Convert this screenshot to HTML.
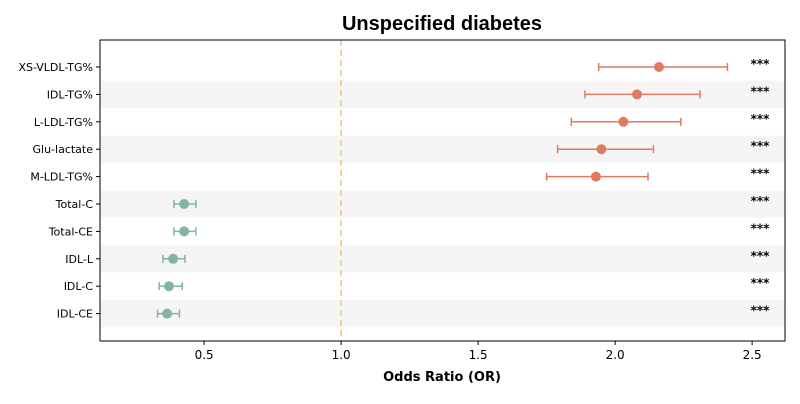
<!DOCTYPE html>
<html><head><meta charset="utf-8"><style>
body{margin:0;background:#fff;font-family:"DejaVu Sans","Liberation Sans",sans-serif;}
</style></head><body>
<svg id="chart" width="800" height="400" xmlns="http://www.w3.org/2000/svg">
<text x="442" y="30" text-anchor="middle" font-size="20" font-weight="bold" font-family="Liberation Sans, sans-serif">Unspecified diabetes</text>
<g id="bands"></g><g id="marks"></g><g id="axes"></g>
</svg>
<script>
const labels=["XS-VLDL-TG%","IDL-TG%","L-LDL-TG%","Glu-lactate","M-LDL-TG%","Total-C","Total-CE","IDL-L","IDL-C","IDL-CE"];
const orValues=[2.16,2.08,2.03,1.95,1.93,0.427,0.427,0.387,0.372,0.365];
const ciLow=[1.94,1.89,1.84,1.79,1.75,0.39,0.39,0.35,0.336,0.33];
const ciHigh=[2.41,2.31,2.24,2.14,2.12,0.47,0.47,0.43,0.42,0.41];
const sig=["***","***","***","***","***","***","***","***","***","***"];
const xTicks=[0.5,1.0,1.5,2.0,2.5];
const NS="http://www.w3.org/2000/svg";
const L=100,R=785,T=40,B=341,xmin=0.12,xmax=2.62;
const x=v=>L+(v-xmin)/(xmax-xmin)*(R-L);
const rowH=27.4,y=i=>67+i*rowH;
function mk(tag,attrs,parent,text){const e=document.createElementNS(NS,tag);for(const k in attrs)e.setAttribute(k,attrs[k]);if(text!==undefined)e.textContent=text;document.getElementById(parent).appendChild(e);return e;}
labels.forEach((l,i)=>{
 if(i%2===1){const b=mk("rect",{x:L,y:y(i)-rowH/2,width:R-L,height:rowH,fill:"#f5f5f5"},"bands");
 
 }
});
const ref=mk("line",{x1:x(1),x2:x(1),y1:T,y2:B,stroke:"#f5c27a","stroke-width":1.5,"stroke-dasharray":"6,4"},"marks");


labels.forEach((l,i)=>{
 const c=orValues[i]>1?"#e07b5f":"#82b59e";
 const cy=y(i);
 const ln=mk("line",{x1:x(ciLow[i]),x2:x(ciHigh[i]),y1:cy,y2:cy,stroke:c,"stroke-width":1.5},"marks");
 
 
 [ciLow[i],ciHigh[i]].forEach(v=>{const cap=mk("line",{x1:x(v),x2:x(v),y1:cy-4,y2:cy+4,stroke:c,"stroke-width":1.5},"marks");
 
 });
 const p=mk("circle",{cx:x(orValues[i]),cy:cy,r:5,fill:c},"marks");
 
 
 const s=mk("text",{x:760,y:cy+1,"text-anchor":"middle","font-size":12,"font-weight":"bold"},"marks",sig[i]);
 
 
 const tl=mk("line",{x1:L-4,x2:L,y1:cy,y2:cy,stroke:"#000"},"axes");
 
 
 const t=mk("text",{x:L-7,y:cy+4,"text-anchor":"end","font-size":11},"axes",l);
 
 
});
xTicks.forEach(v=>{
 const tl=mk("line",{x1:x(v),x2:x(v),y1:B,y2:B+4,stroke:"#000"},"axes");
 
 
 const t=mk("text",{x:x(v),y:B+18,"text-anchor":"middle","font-size":12},"axes",v.toFixed(1));
 
 
});
const frame=mk("rect",{x:L,y:T,width:R-L,height:B-T,fill:"none",stroke:"#000","stroke-width":1},"axes");


const xt=mk("text",{x:442,y:381,"text-anchor":"middle","font-size":13,"font-weight":"bold"},"axes","Odds Ratio (OR)");


</script>
</body></html>
